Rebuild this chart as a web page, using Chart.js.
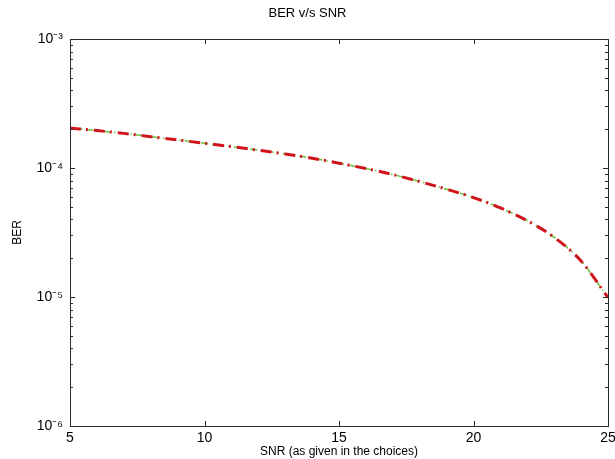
<!DOCTYPE html>
<html>
<head>
<meta charset="utf-8">
<script src="https://cdn.jsdelivr.net/npm/chart.js@4/dist/chart.umd.min.js"></script>
<style>
  html, body { margin: 0; padding: 0; background: #fff; }
  #wrap { width: 615px; height: 459px; position: relative; }
</style>
</head>
<body>
<div id="wrap"><canvas id="c"></canvas></div>
<script>
// ---- data ----
const snr = [5, 6, 7, 8, 9, 10, 11, 12, 13, 14, 15, 16, 17, 18, 19, 20, 21, 22, 23, 24, 25];
const berRed = [2.04e-4, 1.95e-4, 1.855e-4, 1.75e-4, 1.65e-4, 1.555e-4, 1.465e-4, 1.375e-4, 1.285e-4, 1.19e-4,
                1.09e-4, 9.9e-5, 8.9e-5, 7.85e-5, 6.85e-5, 5.9e-5, 4.9e-5, 3.9e-5, 2.9e-5, 1.9e-5, 9.9e-6];
const berGreen = [2.04e-4, 1.95e-4, 1.855e-4, 1.75e-4, 1.65e-4, 1.555e-4, 1.465e-4, 1.375e-4, 1.285e-4, 1.19e-4,
                1.09e-4, 9.9e-5, 8.9e-5, 7.85e-5, 6.85e-5, 5.9e-5, 4.9e-5, 3.9e-5, 2.9e-5, 1.9e-5, 9.9e-6];
const xTickValues = [5, 10, 15, 20, 25];
const yTickValues = [1e-6, 1e-5, 1e-4, 1e-3];
const yTickLabels = ['10\u207B\u2076', '10\u207B\u2075', '10\u207B\u2074', '10\u207B\u00B3'];
const titleText = 'BER v/s SNR';
const xLabel = 'SNR (as given in the choices)';
const yLabel = 'BER';

const FONT = "'Liberation Sans', Arial, Helvetica, sans-serif";
const AXIS_COLOR = '#2a2a2a';

// MATLAB-like box with inward ticks
const matlabAxes = {
  id: 'matlabAxes',
  afterDatasetsDraw(chart) {
    const ctx = chart.ctx;
    const a = chart.chartArea;
    const xs = chart.scales.x, ys = chart.scales.y;
    ctx.save();
    ctx.strokeStyle = AXIS_COLOR;
    ctx.lineWidth = 1;
    ctx.strokeRect(Math.round(a.left) + 0.5, Math.round(a.top) + 0.5,
                   Math.round(a.right - a.left), Math.round(a.bottom - a.top));
    ctx.beginPath();
    const major = 5, minor = 3;
    xTickValues.forEach(v => {
      const px = Math.round(xs.getPixelForValue(v)) + 0.5;
      ctx.moveTo(px, a.bottom); ctx.lineTo(px, a.bottom - major);
      ctx.moveTo(px, a.top); ctx.lineTo(px, a.top + major);
    });
    yTickValues.forEach((v, i) => {
      const py = Math.round(ys.getPixelForValue(v)) + 0.5;
      ctx.moveTo(a.left, py); ctx.lineTo(a.left + major, py);
      ctx.moveTo(a.right, py); ctx.lineTo(a.right - major, py);
      if (i < yTickValues.length - 1) {
        for (let m = 2; m <= 9; m++) {
          const my = Math.round(ys.getPixelForValue(v * m)) + 0.5;
          ctx.moveTo(a.left, my); ctx.lineTo(a.left + minor, my);
          ctx.moveTo(a.right, my); ctx.lineTo(a.right - minor, my);
        }
      }
    });
    ctx.stroke();
    ctx.restore();
  }
};

new Chart(document.getElementById('c'), {
  type: 'line',
  data: {
    labels: snr,
    datasets: [
      {
        label: 'BER (red)',
        data: snr.map((x, i) => ({ x: x, y: berRed[i] })),
        borderColor: '#d0141c',
        borderWidth: 3,
        borderDash: [11, 5, 2, 6],
        pointRadius: 0,
        cubicInterpolationMode: 'monotone',
        fill: false,
        order: 0
      },
      {
        label: 'BER (green)',
        data: snr.map((x, i) => ({ x: x, y: berGreen[i] })),
        borderColor: '#6cbf3c',
        borderWidth: 1.5,
        borderDash: [7, 4, 1.5, 4],
        pointRadius: 0,
        cubicInterpolationMode: 'monotone',
        fill: false,
        order: 1
      }
    ]
  },
  options: {
    responsive: true,
    maintainAspectRatio: false,
    animation: false,
    layout: { padding: { left: 0, right: 0, top: 0, bottom: 0 } },
    plugins: {
      legend: { display: false },
      tooltip: { enabled: false },
      title: {
        display: true,
        text: titleText,
        color: '#000',
        font: { family: FONT, size: 13, weight: 'normal' },
        padding: { top: 6, bottom: 17.4 }
      }
    },
    scales: {
      x: {
        type: 'linear',
        min: 5,
        max: 25,
        afterBuildTicks: (s) => { s.ticks = xTickValues.map(v => ({ value: v })); },
        afterFit: (s) => { s.height = 33; s.paddingRight = 7; s.paddingLeft = 0; },
        grid: { display: false, drawTicks: false },
        border: { display: false },
        ticks: {
          color: '#000',
          padding: 4,
          maxRotation: 0,
          font: { family: FONT, size: 14 }
        },
        title: {
          display: true,
          text: xLabel,
          color: '#000',
          font: { family: FONT, size: 12 },
          padding: { top: 0, bottom: 0 }
        }
      },
      y: {
        type: 'logarithmic',
        min: 1e-6,
        max: 1e-3,
        afterBuildTicks: (s) => { s.ticks = yTickValues.map(v => ({ value: v })); },
        afterFit: (s) => { s.width = 70; },
        grid: { display: false, drawTicks: false },
        border: { display: false },
        ticks: {
          color: '#000',
          padding: 7,
          font: { family: FONT, size: 14 },
          callback: (v) => {
            const i = yTickValues.findIndex(t => Math.abs(Math.log10(t) - Math.log10(v)) < 1e-6);
            return i >= 0 ? yTickLabels[i] : '';
          }
        },
        title: {
          display: true,
          text: yLabel,
          color: '#000',
          font: { family: FONT, size: 12 },
          padding: { top: 10, bottom: 0 }
        }
      }
    }
  },
  plugins: [matlabAxes]
});
</script>
</body>
</html>
